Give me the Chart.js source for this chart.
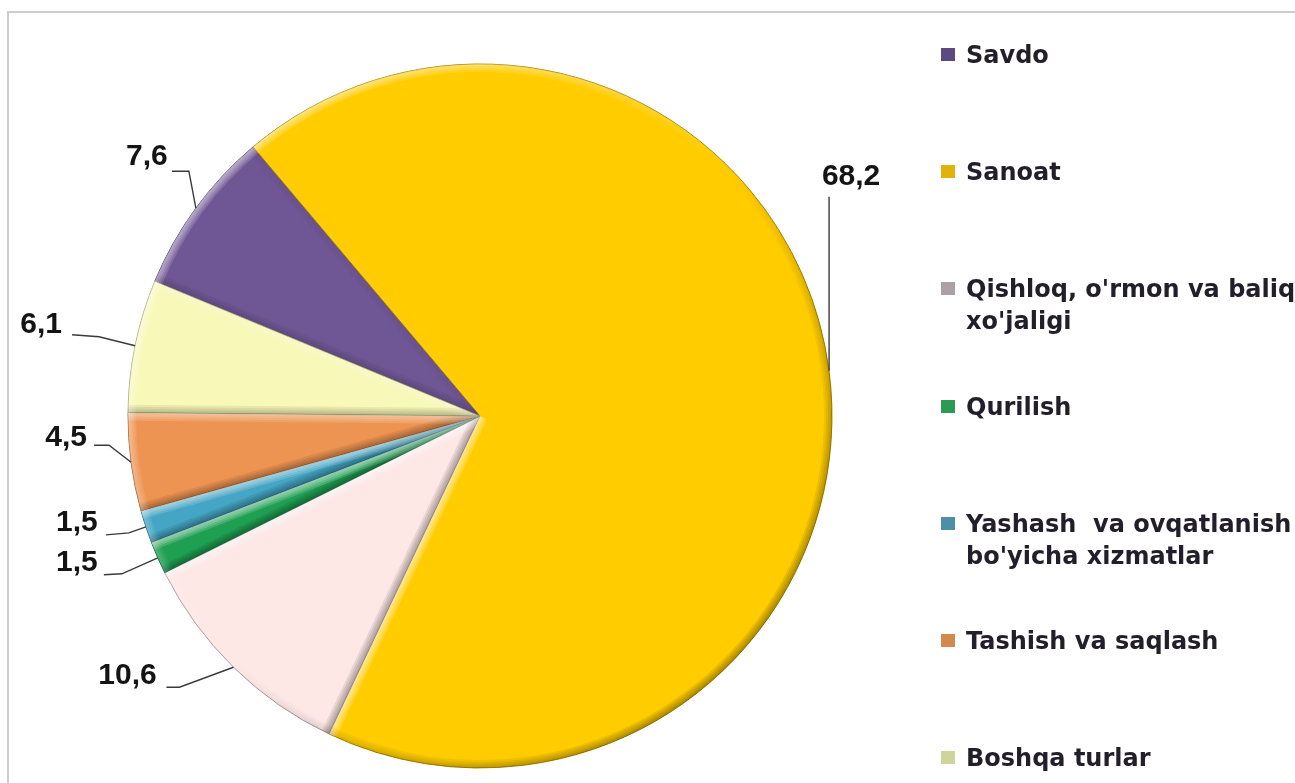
<!DOCTYPE html>
<html>
<head>
<meta charset="utf-8">
<title>Pie</title>
<script src="https://cdn.jsdelivr.net/npm/chart.js@4.4.0/dist/chart.umd.min.js"></script>
<style>
  html, body { margin: 0; padding: 0; background: #fff; overflow: hidden; }
  #wrap { position: relative; width: 1295px; height: 783px; overflow: hidden; }
  #frame { position: absolute; left: 7px; top: 11px; width: 1400px; height: 900px;
           border-left: 2px solid #cdcdcd; border-top: 2px solid #cdcdcd; }
  #chart { position: absolute; left: 0; top: 0; }
  #legend { position: absolute; left: 0; top: 0; width: 1295px; height: 783px; overflow: hidden;
            font: bold 24px "DejaVu Sans", Verdana, sans-serif; color: #231f2a; }
  .item { position: absolute; left: 941px; white-space: pre; line-height: 32px; }
  .box { position: absolute; left: 0; top: 9px; width: 14px; height: 13px; }
  .txt { position: absolute; left: 25px; top: 0; }
</style>
</head>
<body>
<div id="wrap">
  <div id="frame"></div>
  <canvas id="chart" width="1295" height="783"></canvas>
  <div id="legend"></div>
</div>
<script>
// Kategoriyalar va ulushlar (%)
const categories = ["Savdo", "Sanoat", "Qishloq, o'rmon va baliq xo'jaligi", "Qurilish",
  "Yashash va ovqatlanish bo'yicha xizmatlar", "Tashish va saqlash", "Boshqa turlar"];
const legendLines = [["Savdo"], ["Sanoat"], ["Qishloq, o'rmon va baliq", "xo'jaligi"], ["Qurilish"],
  ["Yashash  va ovqatlanish", "bo'yicha xizmatlar"], ["Tashish va saqlash"], ["Boshqa turlar"]];
const shares = [7.6, 68.2, 10.6, 1.5, 1.5, 4.5, 6.1];

// ranglar
const sliceColors = ["#6f5694", "#ffcc00", "#fde8e6", "#1f9f52", "#44a5c4", "#ee9452", "#f8f8b8"];
const edgeColors = ["#47366a", "#a88600", "#a8979a", "#0d6633", "#276f8a", "#a4602c", "#a9a970"];
const legendColors = ["#5b4a7d", "#e0b20a", "#aaa0a6", "#2a9a55", "#4b8fa8", "#d08a4d", "#cfd49a"];

// yorliq joylashuvi: matn markazi va chiziq nuqtalari (bo'lak chetidan nisbiy)
const labelLayout = [
  { text: [-49, -51], line: [[-7, -37], [-24, -37]] },
  { text: [22, -194], line: [[0, -174]] },
  { text: [-106, 8], line: [[-54, 20], [-67, 20]] },
  { text: [-81, 5], line: [[-36, 16], [-54, 17]] },
  { text: [-69, -4], line: [[-17, 6], [-40, 8]] },
  { text: [-65, -25], line: [[-22, -17], [-37, -17]] },
  { text: [-94, -21], line: [[-36, -9], [-63, -11]] }
];

// Legend
const legendEl = document.getElementById('legend');
categories.forEach((name, i) => {
  const item = document.createElement('div');
  item.className = 'item';
  item.style.top = (55 + i * 117.2 - 16) + 'px';
  item.title = name;
  item.innerHTML = `<div class="box" style="background:${legendColors[i]}"></div>
    <div class="txt">${legendLines[i].join('\n')}</div>`;
  legendEl.appendChild(item);
});

// Bo'rtma effekt (yorug'lik yuqori-chapdan)
const bevelPlugin = {
  id: 'bevel',
  afterDatasetsDraw(chart) {
    const ctx = chart.ctx;
    const L = [-Math.SQRT1_2, -Math.SQRT1_2];
    const layers = (style, alpha, draw) => {
      for (let k = 1; k <= 4; k++) {
        ctx.lineWidth = 4 * k;
        ctx.globalAlpha = alpha / 4;
        ctx.strokeStyle = style;
        draw();
      }
      ctx.globalAlpha = 1;
    };
    chart.getDatasetMeta(0).data.forEach(arc => {
      const { x, y, startAngle, endAngle, outerRadius } = arc.getProps(['x', 'y', 'startAngle', 'endAngle', 'outerRadius'], true);
      const R = outerRadius;
      ctx.save();
      ctx.beginPath();
      ctx.moveTo(x, y);
      ctx.arc(x, y, R, startAngle, endAngle);
      ctx.closePath();
      ctx.clip();
      // radial qirralar
      [[startAngle, [Math.sin(startAngle), -Math.cos(startAngle)]],
       [endAngle, [-Math.sin(endAngle), Math.cos(endAngle)]]].forEach(([ang, n]) => {
        const dot = n[0] * L[0] + n[1] * L[1];
        const style = dot > 0 ? '#ffffff' : '#000000';
        const alpha = dot > 0 ? 0.7 * dot : 0.35 * -dot;
        layers(style, alpha, () => {
          ctx.beginPath(); ctx.moveTo(x, y);
          ctx.lineTo(x + Math.cos(ang) * R, y + Math.sin(ang) * R); ctx.stroke();
        });
      });
      // tashqi yoy
      const g = ctx.createLinearGradient(x + L[0] * R, y + L[1] * R, x - L[0] * R, y - L[1] * R);
      g.addColorStop(0, 'rgba(255,255,255,1)');
      g.addColorStop(0.5, 'rgba(255,255,255,0)');
      g.addColorStop(0.5, 'rgba(0,0,0,0)');
      g.addColorStop(1, 'rgba(0,0,0,0.6)');
      layers(g, 0.6, () => {
        ctx.beginPath(); ctx.arc(x, y, R, startAngle, endAngle); ctx.stroke();
      });
      ctx.restore();
    });
  }
};

// Qiymat yorliqlari va chiziqlar
const labelPlugin = {
  id: 'valueLabels',
  afterDatasetsDraw(chart) {
    const ctx = chart.ctx;
    const meta = chart.getDatasetMeta(0);
    ctx.save();
    ctx.font = 'bold 30px "Liberation Sans", Arial, sans-serif';
    ctx.textAlign = 'center';
    ctx.textBaseline = 'middle';
    meta.data.forEach((arc, i) => {
      const { x, y, startAngle, endAngle, outerRadius } = arc.getProps(['x', 'y', 'startAngle', 'endAngle', 'outerRadius'], true);
      const mid = (startAngle + endAngle) / 2;
      const ax = x + Math.cos(mid) * outerRadius;
      const ay = y + Math.sin(mid) * outerRadius;
      const lay = labelLayout[i];
      ctx.strokeStyle = '#3a3a3a';
      ctx.lineWidth = 1.4;
      ctx.beginPath();
      ctx.moveTo(ax, ay);
      lay.line.forEach(p => ctx.lineTo(ax + p[0], ay + p[1]));
      ctx.stroke();
      ctx.fillStyle = '#141414';
      ctx.fillText(shares[i].toFixed(1).replace('.', ','), ax + lay.text[0], ay + lay.text[1]);
    });
    ctx.restore();
  }
};

new Chart(document.getElementById('chart'), {
  type: 'pie',
  data: {
    labels: categories,
    datasets: [{
      data: shares,
      backgroundColor: sliceColors,
      borderColor: edgeColors,
      borderWidth: 1
    }]
  },
  options: {
    responsive: false,
    animation: false,
    rotation: -67.5,
    radius: 352,
    layout: { padding: { left: 128, right: 463, top: 64, bottom: 15 } },
    plugins: {
      legend: { display: false },
      tooltip: { enabled: false }
    }
  },
  plugins: [bevelPlugin, labelPlugin]
});
</script>
</body>
</html>
